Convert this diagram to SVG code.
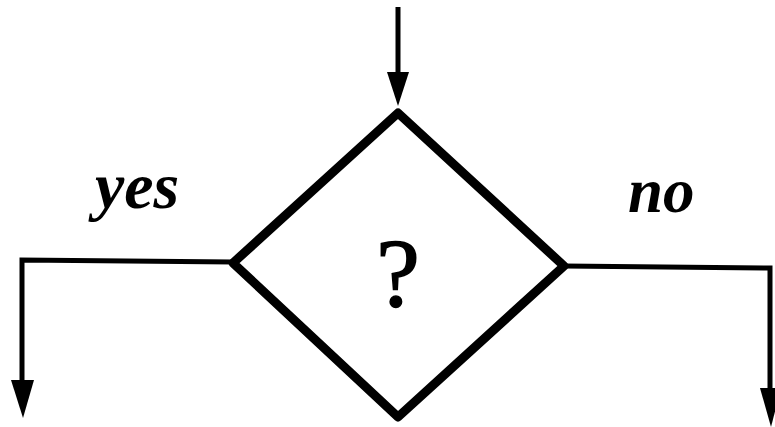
<svg xmlns="http://www.w3.org/2000/svg" width="775" height="427" viewBox="0 0 775 427">
<style>
.conn{fill:none;stroke:#000;stroke-width:5;}
.shape{fill:none;stroke:#000;stroke-width:9;stroke-linejoin:round;}
.lbl{font-family:"Liberation Serif","Times New Roman",serif;font-style:italic;font-weight:bold;fill:#000;}
.q{font-family:"Liberation Serif","Times New Roman",serif;fill:#000;stroke:#000;stroke-width:1.5;}
.head{fill:#000;}
</style>
<rect width="775" height="427" fill="#fff"/>
<g id="decision">
<polygon class="shape" points="398,113 233,263 398,417 564,266"/>
<text class="q" x="398" y="306" font-size="98" text-anchor="middle">?</text>
</g>
<g id="connectors">
<line class="conn" x1="398" y1="7" x2="398" y2="80"/>
<polygon class="head" points="387,72 409,72 398,106"/>
<polyline class="conn" points="233,262 22,260 22,385"/>
<polygon class="head" points="11,380 34,380 23,418"/>
<polyline class="conn" points="564,266 770,268 770,395"/>
<polygon class="head" points="760,388 781,388 771,427"/>
</g>
<g id="labels">
<text class="lbl" x="95" y="208" font-size="66">yes</text>
<text class="lbl" x="628" y="212" font-size="63">no</text>
</g>
</svg>
